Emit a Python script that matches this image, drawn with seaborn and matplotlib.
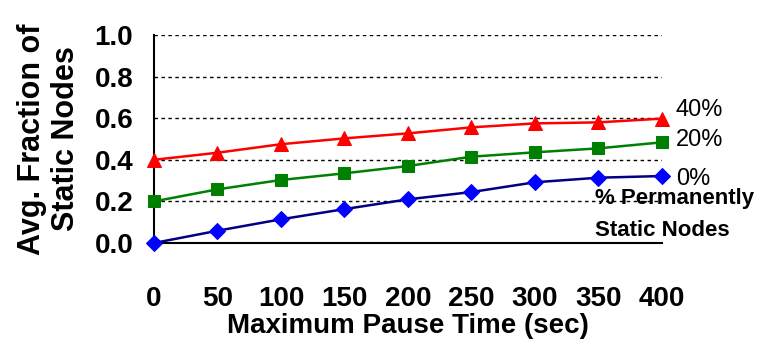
import seaborn as sns
import pandas as pd
import numpy as np
import matplotlib.pyplot as plt

# values
pause = [0, 50, 100, 150, 200, 250, 300, 350, 400]
static40 = [0.40, 0.434, 0.475, 0.503, 0.527, 0.556, 0.575, 0.58, 0.598]
static20 = [0.20, 0.258, 0.303, 0.335, 0.37, 0.415, 0.436, 0.455, 0.484]
static0 = [0.0, 0.059, 0.114, 0.163, 0.21, 0.245, 0.292, 0.314, 0.322]
yticks = [0.0, 0.2, 0.4, 0.6, 0.8, 1.0]

sns.set_style('white')
plt.rcParams['font.family'] = ['Liberation Sans', 'DejaVu Sans']
plt.rcParams['text.color'] = 'black'
plt.rcParams['axes.labelcolor'] = 'black'
plt.rcParams['xtick.color'] = 'black'
plt.rcParams['ytick.color'] = 'black'

fig = plt.figure(figsize=(7.6, 3.43), dpi=100)
ax = fig.add_axes([0.2026, 0.2915, 0.6684, 0.6065])

# dashed grid lines
for v in yticks[1:]:
    ax.plot([0, 400], [v, v], color='black', ls=(0, (2.5, 2.5)), lw=1.0, zorder=1)

series = [
    (static40, 'red', 'red', '^', 10),
    (static20, 'green', 'green', 's', 9),
    (static0, 'navy', 'blue', 'D', 8),
]
for vals, lc, mc, mk, ms in series:
    df = pd.DataFrame({'pause': pause, 'frac': vals})
    sns.lineplot(data=df, x='pause', y='frac', ax=ax, color=lc, lw=1.8,
                 marker=mk, markersize=ms, markerfacecolor=mc,
                 markeredgecolor=mc, clip_on=False, zorder=3)

ax.set_xlim(0, 400)
ax.set_ylim(0, 1.0)
ax.set_xticks(pause)
ax.set_yticks(yticks)
ax.set_yticklabels([f'{v:.1f}' for v in yticks])
ax.tick_params(axis='x', direction='out', length=10, width=1.5, pad=21,
               labelsize=20, color='black', labelcolor='black')
ax.tick_params(axis='y', direction='inout', length=10, width=1.5, pad=10,
               labelsize=20, color='black', labelcolor='black')
for lab in ax.get_xticklabels() + ax.get_yticklabels():
    lab.set_fontweight('bold')

for s in ['top', 'right']:
    ax.spines[s].set_visible(False)
for s in ['left', 'bottom']:
    ax.spines[s].set_color('black')
    ax.spines[s].set_linewidth(1.5)

ax.set_xlabel('Maximum Pause Time (sec)', fontsize=20, fontweight='bold', labelpad=1)
ax.set_ylabel('Avg. Fraction of\nStatic Nodes', fontsize=22, fontweight='bold',
              labelpad=10, linespacing=1.15)

ax.text(411, 0.64, '40%', fontsize=17, va='center', ha='left')
ax.text(411, 0.495, '20%', fontsize=17, va='center', ha='left')
ax.text(411, 0.31, '0%', fontsize=17, va='center', ha='left')
ax.text(347, 0.216, '% Permanently', fontsize=16, fontweight='bold', va='center', ha='left')
ax.text(347, 0.06, 'Static Nodes', fontsize=16, fontweight='bold', va='center', ha='left')

fig.savefig('out.png', dpi=100)
